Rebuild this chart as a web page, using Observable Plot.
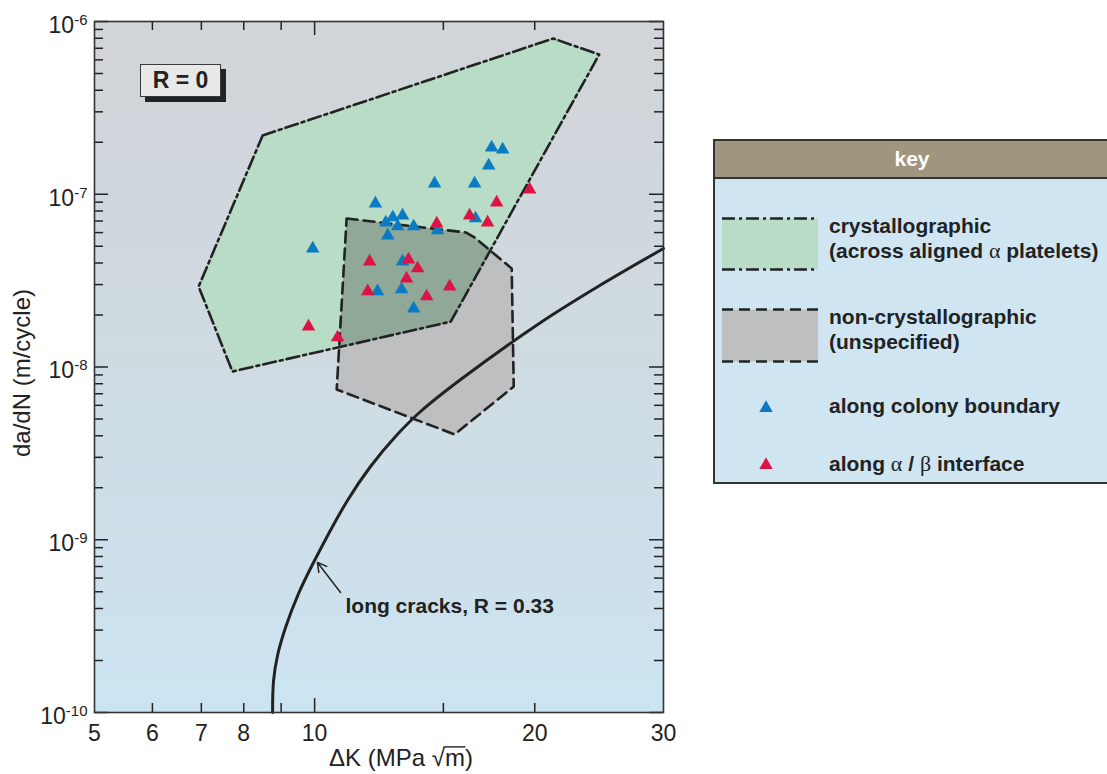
<!DOCTYPE html>
<html>
<head>
<meta charset="utf-8">
<script src="https://cdn.jsdelivr.net/npm/d3@7"></script>
<script src="https://cdn.jsdelivr.net/npm/@observablehq/plot@0.6"></script>
<style>
  html, body { margin: 0; padding: 0; background: #fff; }
  body { font-family: "Liberation Sans", Arial, Helvetica, sans-serif; color: #222; }
  #page { position: relative; width: 1107px; height: 774px; overflow: hidden; }
  #chart { position: absolute; left: 0; top: 0; }
  #rbox { position: absolute; left: 140px; top: 64px; width: 81px; height: 33px; box-sizing: border-box;
          border: 1.5px solid #3a3a3a; background: #e8e8e8; box-shadow: 5px 5px 0 #232323;
          font-weight: bold; font-size: 23px; line-height: 30px; text-align: center; color: #222; }
  #key { position: absolute; left: 713px; top: 139px; width: 398px; height: 345px; box-sizing: border-box;
         border: 2px solid #333; background: #cfe6f2; }
  #key .hdr { height: 36px; background: #a0957f; border-bottom: 2px solid #333; color: #fff; font-weight: bold;
              font-size: 21px; line-height: 36px; text-align: center; }
  #key .sw { position: absolute; left: 7px; }
  #key .lbl { position: absolute; left: 114px; font-weight: bold; font-size: 21px; line-height: 25px; white-space: nowrap; color: #222; }
  #key .gk { font-family: "Liberation Serif", "DejaVu Serif", serif; font-weight: normal; font-size: 22px; }
  #key .tri { position: absolute; }
</style>
</head>
<body>
<div id="page">
  <div id="chart"></div>
  <div id="rbox">R = 0</div>
  <div id="key">
    <div class="hdr">key</div>
    <svg class="sw" style="top:76px" width="96" height="54">
      <rect x="0" y="1.5" width="96" height="51" fill="#b8dcc5"/>
      <line x1="0" x2="96" y1="1.5" y2="1.5" stroke="#222" stroke-width="2.6" stroke-dasharray="13,4,3,4"/>
      <line x1="0" x2="96" y1="52.5" y2="52.5" stroke="#222" stroke-width="2.6" stroke-dasharray="13,4,3,4"/>
    </svg>
    <div class="lbl" style="top:72px">crystallographic<br>(across aligned <span class="gk">α</span> platelets)</div>
    <svg class="sw" style="top:167px" width="96" height="55">
      <rect x="0" y="1.5" width="96" height="52" fill="#bebfc1"/>
      <line x1="0" x2="96" y1="1.5" y2="1.5" stroke="#222" stroke-width="2.6" stroke-dasharray="11,6"/>
      <line x1="0" x2="96" y1="53.5" y2="53.5" stroke="#222" stroke-width="2.6" stroke-dasharray="11,6"/>
    </svg>
    <div class="lbl" style="top:163px">non-crystallographic<br>(unspecified)</div>
    <svg class="tri" id="triBlue" style="left:41px;top:257px" width="20" height="20"></svg>
    <div class="lbl" style="top:252px">along colony boundary</div>
    <svg class="tri" id="triRed" style="left:41px;top:314px" width="20" height="20"></svg>
    <div class="lbl" style="top:310px">along <span class="gk">α</span> / <span class="gk">β</span> interface</div>
  </div>
</div>
<script>
// Fatigue crack growth rate da/dN (m/cycle) against ΔK (MPa√m), both on log axes.

// Envelope of crystallographic growth (across aligned α platelets)
const crystalK    = [8.49, 21.2, 24.5, 15.35, 7.72, 6.94];
const crystalRate = [2.19e-7, 7.97e-7, 6.44e-7, 1.83e-8, 9.42e-9, 2.92e-8];

// Envelope of non-crystallographic growth (unspecified)
const nonCrystalK    = [11.06, 16.09, 16.55, 18.6, 18.72, 15.54, 10.72];
const nonCrystalRate = [7.24e-8, 6.01e-8, 5.62e-8, 3.72e-8, 7.71e-9, 4.07e-9, 7.41e-9];

// Long-crack curve, R = 0.33
const longCrackK    = [8.76, 8.787, 8.898, 9.125, 9.507, 9.998, 11.09, 11.925, 12.90, 13.96, 15.84, 20.38, 24.54, 30.0];
const longCrackRate = [1e-10, 1.531e-10, 2.138e-10, 3.105e-10, 4.886e-10, 7.585e-10, 1.688e-9, 2.655e-9, 3.96e-9, 5.526e-9, 8.466e-9, 1.81e-8, 2.963e-8, 4.853e-8];

// Short cracks growing along colony boundaries
const colonyK    = [17.46, 18.08, 17.30, 14.59, 16.55, 12.11, 12.79, 13.19, 12.51, 12.99, 13.66, 12.59, 9.94, 14.73, 16.60, 13.19, 12.19, 13.15, 13.66];
const colonyRate = [1.865e-7, 1.816e-7, 1.467e-7, 1.154e-7, 1.154e-7, 8.84e-8, 7.34e-8, 7.53e-8, 6.86e-8, 6.51e-8, 6.51e-8, 5.77e-8, 4.85e-8, 6.17e-8, 7.24e-8, 4.08e-8, 2.74e-8, 2.81e-8, 2.18e-8];

// Short cracks growing along α/β interfaces
const interfaceK    = [19.68, 17.74, 16.29, 17.24, 14.69, 11.89, 13.44, 13.83, 13.36, 11.82, 15.30, 14.23, 9.81, 10.75];
const interfaceRate = [1.065e-7, 8.96e-8, 7.53e-8, 6.86e-8, 6.77e-8, 4.08e-8, 4.19e-8, 3.72e-8, 3.25e-8, 2.74e-8, 2.92e-8, 2.56e-8, 1.716e-8, 1.482e-8];

// Axis ticks
const xTickLabels = [5, 6, 7, 8, 9, 10, 20, 30];
const xMinorTicks = [6, 7, 8, 9, 15, 20];
const xMajorTicks = [10];
const yDecades    = [1e-10, 1e-9, 1e-8, 1e-7, 1e-6];
const yMultiples  = [2, 3, 4, 5, 6, 7, 8, 9];

// Annotation for the long-crack curve
const crackNoteText = ["long cracks, R = 0.33"];
const crackNoteAt   = [{k: 11.02, rate: 4.11e-10}];
const crackPointer  = [{k1: 10.85, rate1: 4.95e-10, k2: 10.09, rate2: 7.38e-10}];

const xTitle = "ΔK (MPa√m)";
const yTitle = "da/dN (m/cycle)";

const table = (ks, rates) => ks.map((k, i) => ({k, rate: rates[i]}));
const crystal    = table(crystalK, crystalRate);
const nonCrystal = table(nonCrystalK, nonCrystalRate);
const longCrack  = table(longCrackK, longCrackRate);
const colony     = table(colonyK, colonyRate);
const interfaceA = table(interfaceK, interfaceRate);
const yMinorTicks = yDecades.slice(0, -1).flatMap(d => yMultiples.map(m => m * d));

// Region where both envelopes overlap: clip one polygon by the other (convex) in log space
function clipConvex(subject, clip) {
  let area = 0;
  for (let i = 0; i < clip.length; i++) {
    const a = clip[i], b = clip[(i + 1) % clip.length];
    area += a[0] * b[1] - b[0] * a[1];
  }
  const s = Math.sign(area);
  const cross = (u, v) => u[0] * v[1] - u[1] * v[0];
  let out = subject;
  for (let i = 0; i < clip.length; i++) {
    const a = clip[i], b = clip[(i + 1) % clip.length];
    const ab = [b[0] - a[0], b[1] - a[1]];
    const inside = p => s * cross(ab, [p[0] - a[0], p[1] - a[1]]) >= 0;
    const hit = (p, q) => {
      const t = cross(ab, [a[0] - p[0], a[1] - p[1]]) / cross(ab, [q[0] - p[0], q[1] - p[1]]);
      return [p[0] + t * (q[0] - p[0]), p[1] + t * (q[1] - p[1])];
    };
    const input = out; out = [];
    for (let j = 0; j < input.length; j++) {
      const p = input[j], q = input[(j + 1) % input.length];
      const pin = inside(p), qin = inside(q);
      if (pin) { out.push(p); if (!qin) out.push(hit(p, q)); }
      else if (qin) out.push(hit(p, q));
    }
  }
  return out;
}
const toLog = d => [Math.log10(d.k), Math.log10(d.rate)];
const overlap = clipConvex(crystal.map(toLog), nonCrystal.map(toLog))
  .map(([a, b]) => ({k: 10 ** a, rate: 10 ** b}));

const W = 700, H = 774;
const M = {left: 94, right: 37, top: 21, bottom: 62};
const plotW = W - M.left - M.right;
const plotH = H - M.top - M.bottom;
const INK = "#222";
const minorLen = 9, majorLen = 14;

const chart = Plot.plot({
  width: W, height: H,
  marginLeft: M.left, marginRight: M.right, marginTop: M.top, marginBottom: M.bottom,
  style: {fontFamily: '"Liberation Sans", Arial, Helvetica, sans-serif', fontSize: "23px", color: INK, background: "none", overflow: "visible"},
  x: {type: "log", domain: [5, 30]},
  y: {type: "log", domain: [1e-10, 1e-6]},
  marks: [
    Plot.frame({fill: "url(#plotBg)", stroke: "none"}),
    // envelope fills
    Plot.line(crystal, {x: "k", y: "rate", curve: "linear-closed", fill: "#b8dcc5", stroke: "none"}),
    Plot.line(nonCrystal, {x: "k", y: "rate", curve: "linear-closed", fill: "#bebfc1", stroke: "none"}),
    Plot.line(overlap, {x: "k", y: "rate", curve: "linear-closed", fill: "#8fa898", stroke: "none"}),
    // envelope outlines
    Plot.line(crystal, {x: "k", y: "rate", curve: "linear-closed", fill: "none", stroke: INK, strokeWidth: 2.6, strokeDasharray: "13,4,3,4"}),
    Plot.line(nonCrystal, {x: "k", y: "rate", curve: "linear-closed", fill: "none", stroke: INK, strokeWidth: 2.6, strokeDasharray: "11,6"}),
    // long-crack curve and its note
    Plot.line(longCrack, {x: "k", y: "rate", curve: "catmull-rom", stroke: INK, strokeWidth: 3}),
    Plot.arrow(crackPointer, {x1: "k1", y1: "rate1", x2: "k2", y2: "rate2", stroke: INK, strokeWidth: 1.5, headLength: 10}),
    Plot.text(crackNoteAt, {x: "k", y: "rate", text: (d, i) => crackNoteText[i], textAnchor: "start", fontWeight: "bold", fontSize: 21, fill: INK}),
    // short-crack observations
    Plot.dot(colony, {x: "k", y: "rate", symbol: "triangle", r: 5, fill: "#0a7bc2"}),
    Plot.dot(interfaceA, {x: "k", y: "rate", symbol: "triangle", r: 5, fill: "#dc1446"}),
    // inward ticks on all four sides
    Plot.ruleX(xMinorTicks, {insetTop: plotH - minorLen, stroke: INK, strokeWidth: 1.5}),
    Plot.ruleX(xMinorTicks, {insetBottom: plotH - minorLen, stroke: INK, strokeWidth: 1.5}),
    Plot.ruleX(xMajorTicks, {insetTop: plotH - majorLen, stroke: INK, strokeWidth: 1.5}),
    Plot.ruleX(xMajorTicks, {insetBottom: plotH - majorLen, stroke: INK, strokeWidth: 1.5}),
    Plot.ruleY(yMinorTicks, {insetRight: plotW - minorLen, stroke: INK, strokeWidth: 1.5}),
    Plot.ruleY(yMinorTicks, {insetLeft: plotW - minorLen, stroke: INK, strokeWidth: 1.5}),
    Plot.ruleY(yDecades, {insetRight: plotW - majorLen, stroke: INK, strokeWidth: 1.5}),
    Plot.ruleY(yDecades, {insetLeft: plotW - majorLen, stroke: INK, strokeWidth: 1.5}),
    Plot.frame({stroke: "#333", strokeWidth: 1.6}),
    // tick labels
    Plot.axisX(xTickLabels, {tickSize: 0, tickPadding: 12, tickFormat: d => `${d}`, label: null, fontSize: 23}),
    Plot.axisY(yDecades, {tickSize: 0, tickPadding: 7, tickFormat: d => `${Math.round(Math.log10(d))}`, label: null, fontSize: 23, dy: 4}),
    // axis titles
    Plot.text([xTitle], {frameAnchor: "bottom", textAnchor: "middle", lineAnchor: "middle", dx: 22, dy: 46, text: d => d, fontSize: 24}),
    Plot.text([yTitle], {frameAnchor: "left", textAnchor: "middle", lineAnchor: "middle", dx: -72, dy: 6, rotate: -90, text: d => d, fontSize: 24})
  ]
});

const svg = d3.select(chart);
svg.insert("defs", ":first-child").html(
  '<linearGradient id="plotBg" x1="0" y1="0" x2="0" y2="1">' +
  '<stop offset="0" stop-color="#d1d4d8"/><stop offset="0.5" stop-color="#cfdbe2"/><stop offset="1" stop-color="#cce4f2"/>' +
  '</linearGradient>');

// powers of ten written as 10 with a raised exponent
svg.selectAll('g[aria-label="y-axis tick label"] text').each(function () {
  const exp = this.textContent;
  const t = d3.select(this).text(null);
  t.append("tspan").text("10");
  t.append("tspan").attr("dy", -8).attr("font-size", 15).text(exp);
});

// x title: ΔK (MPa √m), the radical gets a bar over the m
const xText = svg.selectAll("text").filter(function () { return this.textContent === xTitle; });
xText.text(null);
xText.append("tspan").text("ΔK (MPa ");
xText.append("tspan").text("√");
xText.append("tspan").text("m");
xText.append("tspan").text(")");

document.getElementById("chart").appendChild(chart);

const xNode = xText.node();
if (xNode) {
  const iRad = xNode.textContent.indexOf("√");
  const rad = xNode.getExtentOfChar(iRad);
  const m = xNode.getExtentOfChar(iRad + 1);
  const fs = 24;
  const baseline = rad.y + rad.height - 0.212 * fs;
  const yTop = baseline - 0.80 * fs;
  const tr = xNode.getAttribute("transform");
  const bar = d3.select(xNode.parentNode).append("line")
    .attr("x1", rad.x + rad.width - 1.5).attr("x2", m.x + m.width + 0.5)
    .attr("y1", yTop).attr("y2", yTop)
    .attr("stroke", INK).attr("stroke-width", 1.4);
  if (tr) bar.attr("transform", tr);
}

// legend triangles
const tri = d3.symbol(d3.symbolTriangle, Math.PI * 5 * 5)();
d3.select("#triBlue").append("path").attr("transform", "translate(10,10)").attr("d", tri).attr("fill", "#0a7bc2");
d3.select("#triRed").append("path").attr("transform", "translate(10,10)").attr("d", tri).attr("fill", "#dc1446");
</script>
</body>
</html>
